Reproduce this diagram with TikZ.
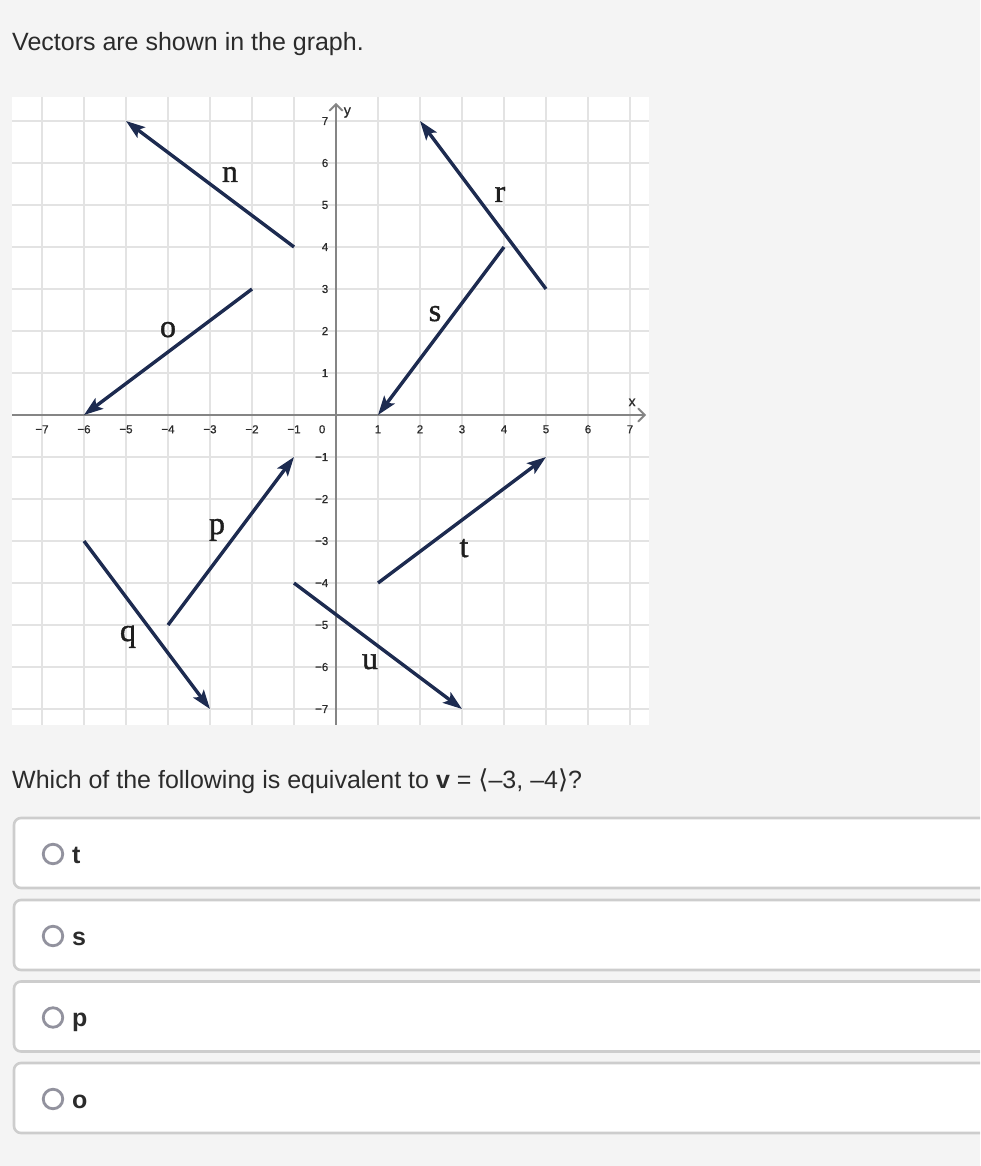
\documentclass[tikz,border=0pt]{standalone}
\usepackage{fontspec}
\setmainfont{Liberation Sans}
\newfontfamily\lblfont[FakeBold=1.2]{Liberation Serif}
\newfontfamily\tickfont[FakeBold=0.8]{Liberation Sans}
\newfontfamily\symfont{DejaVu Sans}
\usetikzlibrary{arrows.meta}
\definecolor{pagebg}{HTML}{F4F4F4}
\definecolor{gridc}{HTML}{E3E3E3}
\definecolor{axisc}{HTML}{858585}
\definecolor{vecc}{HTML}{1D2B50}
\definecolor{txtc}{HTML}{2B2B2B}
\definecolor{lblc}{HTML}{1E1E1E}
\definecolor{boxc}{HTML}{CDCDCD}
\definecolor{radioc}{HTML}{92929E}
\tikzset{
  gridline/.style={draw=gridc, line width=1.6pt},
  axisline/.style={draw=axisc, line width=2pt},
  vec/.style={draw=vecc, line width=3.4pt, -{Stealth[length=19pt,width=13pt,inset=4pt]}},
  vlabel/.style={font=\lblfont\fontsize{32}{34}\selectfont, text=lblc, anchor=base, inner sep=0pt},
  tick/.style={font=\tickfont\fontsize{11.5}{12}\selectfont, text=txtc, inner sep=0pt},
  ansbox/.style={draw=boxc, fill=white, line width=2.6pt, rounded corners=7pt},
  radio/.style={draw=radioc, line width=2.8pt, circle, minimum size=19.5pt, inner sep=0pt},
  anstext/.style={font=\bfseries\fontsize{25}{30}\selectfont, text=txtc, anchor=base west, inner sep=0pt},
  bodytext/.style={font=\fontsize{25}{30}\selectfont, text=txtc, anchor=base west, inner sep=0pt}
}
\begin{document}
\begin{tikzpicture}[x=1pt, y=-1pt]
\fill[pagebg] (0,0) rectangle (980,1166);
\useasboundingbox (0,0) rectangle (980,1166);
\clip (0,0) rectangle (980,1166);

\node[bodytext] (title) at (12,51) {Vectors are shown in the graph.};

% graph area
\fill[white] (12,97) rectangle (649,725);
\begin{scope}[xshift=336pt, yshift=-415pt, x=42pt, y=42pt]
  \foreach \i in {-7,...,-1,1,2,...,7} {
    \draw[gridline] (\i,-7.38) -- (\i,7.57);
    \draw[gridline] (-7.71,\i) -- (7.45,\i);
  }
  \coordinate (xl) at (-7.71,0);
  \coordinate (xr) at (7.35,0);
  \coordinate (yb) at (0,-7.38);
  \coordinate (yt) at (0,7.4);
  \draw[axisline] (xl) -- (xr);
  \draw[axisline] (yb) -- (yt);
  \draw[draw=axisc, line width=2pt, line cap=round] (7.2,0.15) -- (7.35,0) -- (7.2,-0.15);
  \draw[draw=axisc, line width=2pt, line cap=round] (-0.15,7.25) -- (0,7.4) -- (0.15,7.25);
  \node[tick, font=\tickfont\fontsize{14}{15}\selectfont] (xname) at (7.05,0.3) {x};
  \node[tick, font=\tickfont\fontsize{14}{15}\selectfont] (yname) at (0.27,7.2) {y};
  % tick labels
  \foreach \i/\t in {-7/−7,-6/−6,-5/−5,-4/−4,-3/−3,-2/−2,-1/−1,1/1,2/2,3/3,4/4,5/5,6/6,7/7} {
    \node[tick] (xt\i) at (\i,-0.34) {\t};
    \node[tick, anchor=east] (yt\i) at (-0.18,\i) {\t};
  }
  \node[tick] (zero) at (-0.33,-0.34) {0};
  % vector endpoints
  \coordinate (n1) at (-1,4);  \coordinate (n2) at (-5,7);
  \coordinate (o1) at (-2,3);  \coordinate (o2) at (-6,0);
  \coordinate (r1) at (5,3);   \coordinate (r2) at (2,7);
  \coordinate (s1) at (4,4);   \coordinate (s2) at (1,0);
  \coordinate (p1) at (-4,-5); \coordinate (p2) at (-1,-1);
  \coordinate (q1) at (-6,-3); \coordinate (q2) at (-3,-7);
  \coordinate (t1) at (1,-4);  \coordinate (t2) at (5,-1);
  \coordinate (u1) at (-1,-4); \coordinate (u2) at (3,-7);
  \foreach \v in {n,o,r,s,p,q,t,u} {
    \draw[vec] (\v1) -- (\v2);
  }
\end{scope}

% vector labels
\node[vlabel] (ln) at (230,182) {n};
\node[vlabel] (lo) at (168,337) {o};
\node[vlabel] (lr) at (500,202) {r};
\node[vlabel] (ls) at (435,321) {s};
\node[vlabel] (lp) at (217,534) {p};
\node[vlabel] (lq) at (128,641) {q};
\node[vlabel] (lt) at (464,557) {t};
\node[vlabel] (lu) at (370,669) {u};

% question
\node[bodytext] (question) at (12,788) {Which of the following is equivalent to \textbf{v} = {\symfont\fontsize{26}{28}\selectfont ⟨}–3, –4{\symfont\fontsize{26}{28}\selectfont ⟩}?};

% answer boxes
\foreach \k/\top/\a in {1/818/t,2/900/s,3/981.5/p,4/1063/o} {
  \draw[ansbox] (14,\top) rectangle (1010,\top+70);
  \node[radio] (rad\k) at (53,\top+36) {};
  \node[anstext] (ans\k) at (72,\top+45) {\a};
}
\end{tikzpicture}
\end{document}
